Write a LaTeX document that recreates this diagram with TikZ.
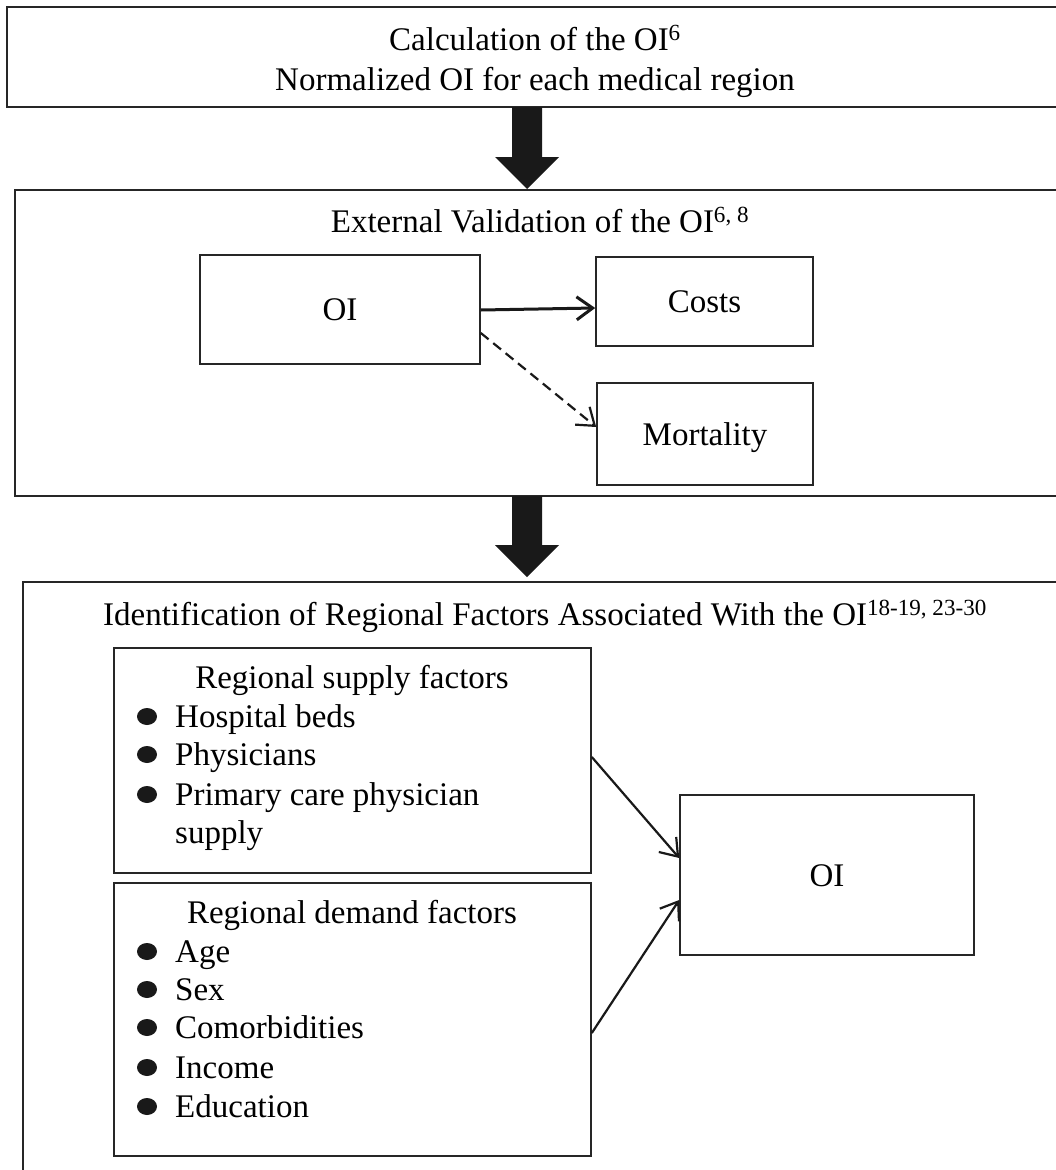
\documentclass[tikz,border=0pt]{standalone}
\usepackage{fontspec}
\setmainfont{Liberation Serif}
\usetikzlibrary{arrows.meta}
\begin{document}
\begin{tikzpicture}[x=1pt,y=-1pt,
  every node/.style={font=\fontsize{33}{40}\selectfont},
  frame/.style={draw=black!85, line width=1.6pt, rectangle, inner sep=0pt},
  inbox/.style={frame, text height=22pt, text depth=0pt},
  lbl/.style={anchor=base, inner sep=0pt},
  itemtext/.style={anchor=base west, inner sep=0pt},
  bigarrow/.style={fill=black!90},
  bulletdot/.style={fill=black!90},
  link/.style={draw=black!90, line width=2.2pt, -{Straight Barb[length=16pt,width=23pt]}},
]
\fill[white] (0,0) rectangle (1056,1170);
\useasboundingbox (0,0) rectangle (1056,1170);

% Box 1
\node[frame, minimum width=1063pt, minimum height=100pt] (calc) at (538.5,57) {};
\node[lbl] (calcA) at (535,50) {Calculation of the OI\textsuperscript{6}};
\node[lbl] (calcB) at (535,90) {Normalized OI for each medical region};

% Big arrow 1
\fill[bigarrow] (512,107) -- (512,157) -- (495,157) -- (527,189) -- (559,157) -- (542,157) -- (542,107) -- cycle;

% Box 2
\node[frame, minimum width=1055pt, minimum height=306pt] (valid) at (542.5,343) {};
\node[lbl] (validT) at (540,232) {External Validation of the OI\textsuperscript{6, 8}};
\node[inbox, minimum width=280pt, minimum height=109pt] (oiA) at (340,309.5) {OI};
\node[inbox, minimum width=217pt, minimum height=89pt] (costs) at (704.5,301.5) {Costs};
\node[inbox, minimum width=216pt, minimum height=102pt] (mort) at (705,434) {Mortality};
\draw[link, line width=3pt] ([yshift=-0.5pt]oiA.east) -- ([yshift=-6.5pt]costs.west);
\draw[link, dash pattern=on 10pt off 6pt] ([yshift=-23.5pt]oiA.east) -- ([yshift=7pt]mort.west);

% Big arrow 2
\fill[bigarrow] (512,496) -- (512,545) -- (495,545) -- (527,577) -- (559,545) -- (542,545) -- (542,496) -- cycle;

% Box 3
\node[frame, minimum width=1047pt, minimum height=598pt] (ident) at (546.5,881) {};
\node[lbl] (identT) at (545,625) {Identification of Regional Factors Associated With the OI\textsuperscript{18-19, 23-30}};

\node[frame, minimum width=477pt, minimum height=225pt] (supply) at (352.5,760.5) {};
\node[lbl] (supplyT) at (352,688) {Regional supply factors};
\foreach \t/\yb in {Hospital beds/727, Physicians/765, Primary care physician/805} {
  \fill[bulletdot] (147,{\yb-10.5}) ellipse [x radius=10pt, y radius=8.5pt];
  \node[itemtext] (s\yb) at (175,\yb) {\t};
}
\node[itemtext] (s843) at (175,843) {supply};

\node[frame, minimum width=477pt, minimum height=273pt] (demand) at (352.5,1019.5) {};
\node[lbl] (demandT) at (352,923) {Regional demand factors};
\foreach \t/\yb in {Age/962, Sex/1000, Comorbidities/1038, Income/1078, Education/1117} {
  \fill[bulletdot] (147,{\yb-10.5}) ellipse [x radius=10pt, y radius=8.5pt];
  \node[itemtext] (d\yb) at (175,\yb) {\t};
}

\node[inbox, minimum width=294pt, minimum height=160pt] (oiB) at (827,875) {OI};
\draw[link] ([yshift=3.5pt]supply.east) -- ([yshift=17pt]oiB.west);
\draw[link] ([yshift=-13.5pt]demand.east) -- ([yshift=-25pt]oiB.west);
\end{tikzpicture}
\end{document}
